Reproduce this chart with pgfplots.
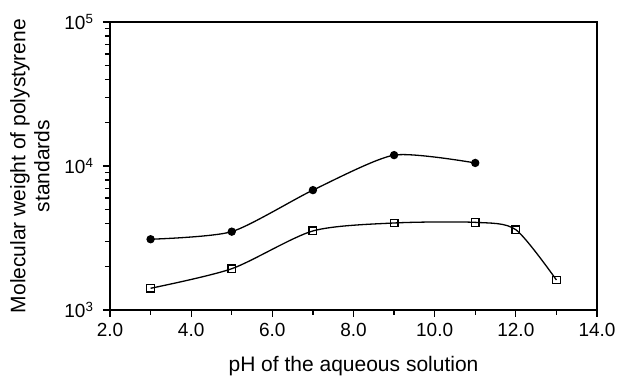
\documentclass[border=0pt]{standalone}
\usepackage{pgfplots}
\pgfplotsset{compat=1.18}
\usepackage{fontspec}
\setmainfont{Liberation Sans}
\begin{document}
\begin{tikzpicture}
\begin{axis}[
 scale only axis, width=487pt, height=288pt,
 xmin=2, xmax=14, ymin=1000, ymax=100000, ymode=log,
 xtick={2,4,...,14}, xticklabels={2.0,4.0,6.0,8.0,10.0,12.0,14.0},
 minor xtick={3,5,7,9,11,13},
 ytick={1000,10000,100000},
 yticklabels={10\textsuperscript{3},10\textsuperscript{4},10\textsuperscript{5}},
 minor ytick={2000,3000,4000,5000,6000,7000,8000,9000,20000,30000,40000,50000,60000,70000,80000,90000},
 tick pos=left,
 major tick length=7pt, minor tick length=5pt,
 xtick align=outside, ytick align=outside,
 every tick/.style={black, line width=1.2pt},
 every minor tick/.style={black, line width=1.2pt},
 axis line style={line width=1.3pt},
 ticklabel style={font=\fontsize{19}{19}\selectfont},
 yticklabel style={xshift=-6pt},
 xticklabel style={yshift=-3pt},
 label style={font=\fontsize{21}{24}\selectfont},
 xlabel={pH of the aqueous solution},
 xlabel style={yshift=-12pt},
 ylabel={Molecular weight of polystyrene\\standards},
 ylabel style={align=center},
 ylabel shift=8pt,
]
\coordinate (sw) at (rel axis cs:0,0);
\coordinate (ne) at (rel axis cs:1,1);
\addplot[black, line width=1.3pt, smooth, tension=0.4, mark=*, mark size=3.5pt] coordinates {
 (3,3100) (5,3500) (7,6800) (9,11900) (11,10500)
};
\addplot[black, line width=1.3pt, smooth, tension=0.45, mark=square, mark size=3.8pt, mark options={fill=white, line width=1.3pt}] coordinates {
 (3,1415) (5,1935) (7,3540) (9,4020) (11,4060) (12,3610) (13,1616)
};
\end{axis}
\pgfresetboundingbox
\useasboundingbox ([shift={(-110pt,-66pt)}]sw) rectangle ([shift={(20pt,22pt)}]ne);
\end{tikzpicture}
\end{document}
